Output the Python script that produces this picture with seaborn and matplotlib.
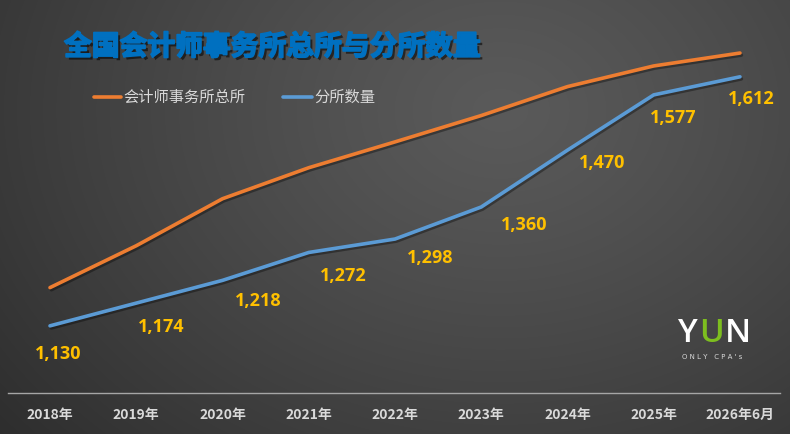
import numpy as np
import pandas as pd
import matplotlib
matplotlib.use("Agg")
import matplotlib.pyplot as plt
import matplotlib.patheffects as pe
import seaborn as sns

years = ["2018年", "2019年", "2020年", "2021年", "2022年", "2023年", "2024年", "2025年", "2026年6月"]
head_office = [1204, 1285, 1376, 1436, 1486, 1537, 1593, 1633, 1658]
branches = [1130, 1174, 1218, 1272, 1298, 1360, 1470, 1577, 1612]
series_names = ["会计师事务所总所", "分所数量"]

sns.set_theme(style="white")
plt.rcParams['font.family'] = ['Noto Sans CJK SC', 'DejaVu Sans']

fig = plt.figure(figsize=(7.9, 4.34), dpi=100)

# background radial gradient
bg = fig.add_axes([0, 0, 1, 1])
bg.set_axis_off()
h, w = 434, 790
yy, xx = np.mgrid[0:h, 0:w]
cx, cy = 500, 110
d = np.sqrt(((xx - cx) / 720.0) ** 2 + ((yy - cy) / 560.0) ** 2)
d = np.clip(d, 0, 1) ** 1.2
c0 = np.array([0x5a, 0x5a, 0x5a]) / 255.0
c1 = np.array([0x28, 0x28, 0x28]) / 255.0
img = c0[None, None, :] * (1 - d[..., None]) + c1[None, None, :] * d[..., None]
bg.imshow(img, aspect='auto', extent=[0, 1, 0, 1], origin='upper')
bg.set_xlim(0, 1); bg.set_ylim(0, 1)

ax = fig.add_axes([8 / 790, 41 / 434, 772 / 790, 387.5 / 434])
ax.set_facecolor((0, 0, 0, 0))
ax.patch.set_alpha(0)

df = pd.DataFrame({
    "year": years * 2,
    "value": head_office + branches,
    "series": [series_names[0]] * len(years) + [series_names[1]] * len(years),
})
df["x"] = list(range(len(years))) * 2

palette = {series_names[0]: "#ED7D31", series_names[1]: "#5B9BD5"}
sns.lineplot(data=df, x="x", y="value", hue="series", palette=palette, ax=ax,
             linewidth=2.6, legend=False, sort=False)
for ln in ax.lines:
    ln.set_solid_capstyle('round')
    ln.set_path_effects([pe.SimpleLineShadow(offset=(1, -1.5), alpha=0.35, shadow_color='black'), pe.Normal()])

ax.set_xlim(-0.487, 8.464)
ax.set_ylim(1000, 1750)
ax.set_xticks(range(len(years)))
ax.set_xticklabels(years, color="#d9d9d9", fontsize=10, fontweight="bold")
ax.tick_params(axis='x', length=0, pad=11)
ax.set_yticks([])
ax.set_xlabel(""); ax.set_ylabel("")
for s in ["top", "right", "left"]:
    ax.spines[s].set_visible(False)
ax.spines["bottom"].set_color("#a6a6a6")
ax.spines["bottom"].set_linewidth(1.0)

# data labels (offsets in points relative to the point)
label_offsets = [(6, -20), (18, -17), (26, -15), (25, -17), (25, -14), (31, -13), (25, -9), (14, -17), (8, -16)]
for i, (v, off) in enumerate(zip(branches, label_offsets)):
    ax.annotate(f"{v:,}", (i, v), xytext=off, textcoords="offset points",
                ha="center", va="center", color="#FFC000", fontsize=13,
                fontweight="bold", family=["Open Sans", "DejaVu Sans"])

# title
fig.text(64 / 790, 1 - 47 / 434, "全国会计师事务所总所与分所数量", color="#0070C0",
         fontsize=20, fontweight="heavy", ha="left", va="center",
         path_effects=[pe.withSimplePatchShadow(offset=(2, -2), shadow_rgbFace='black', alpha=0.55),
                       pe.Stroke(linewidth=1.2, foreground="#0070C0"), pe.Normal()])

# legend
ly = 1 - 97 / 434
for (x0, x1, tx, name) in [(94, 121, 123, series_names[0]), (283, 312, 314, series_names[1])]:
    fig.add_artist(plt.Line2D([x0 / 790, x1 / 790], [ly, ly], color=palette[name], linewidth=2.6,
                              solid_capstyle='round', transform=fig.transFigure))
    fig.text(tx / 790, ly, name, color="#d9d9d9", fontsize=11, ha="left", va="center")

# logo
for ch, xc, col in [("Y", 687, "white"), ("U", 712, "#7DBE1F"), ("N", 738, "white")]:
    fig.text(xc / 790, 1 - 334 / 434, ch, color=col, fontsize=24, ha="center", va="center",
             family=["Open Sans", "DejaVu Sans"], fontweight="semibold")
fig.text(712 / 790, 1 - 357 / 434, "O N L Y   C P A ' s", color="#d9d9d9", fontsize=5,
         ha="center", va="center", family=["DejaVu Sans"])

fig.savefig("out.png", dpi=100)
